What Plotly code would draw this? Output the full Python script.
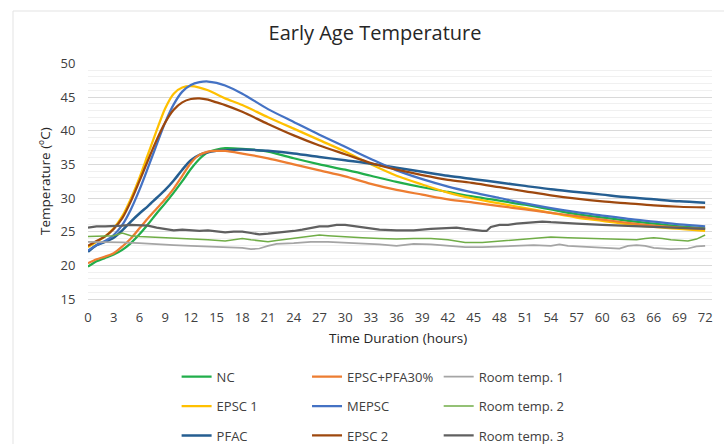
import plotly.graph_objects as go

hours = [0, 1, 2, 3, 4, 5, 6, 7, 8, 9, 10, 11, 12, 13, 14, 15, 16, 18,
         21, 24, 27, 30, 33, 36, 39, 42, 45, 48, 51, 54, 57, 60, 63, 66, 69, 72]

nc = [19.8, 20.6, 21.1, 21.6, 22.3, 23.3, 24.6, 26.1, 27.7, 29.2, 30.8, 32.5, 34.3, 35.8, 36.8, 37.2, 37.4, 37.3,
      36.9, 35.9, 35.0, 34.2, 33.3, 32.4, 31.6, 30.9, 30.2, 29.6, 29.0, 28.3, 27.6, 27.1, 26.6, 26.2, 25.8, 25.5]
epsc_pfa = [20.3, 20.9, 21.3, 21.8, 22.8, 24.0, 25.5, 27.0, 28.4, 29.8, 31.4, 33.3, 35.2, 36.4, 36.9, 37.0, 37.0, 36.6,
            35.9, 35.0, 34.1, 33.2, 32.1, 31.2, 30.5, 29.8, 29.3, 28.8, 28.3, 27.8, 27.3, 26.8, 26.3, 25.9, 25.6, 25.4]
epsc1 = [22.7, 23.5, 24.3, 25.5, 27.3, 29.9, 33.0, 36.5, 40.0, 43.3, 45.5, 46.4, 46.6, 46.4, 46.0, 45.4, 44.8, 43.8,
         42.0, 40.3, 38.6, 36.9, 35.0, 33.3, 32.0, 30.8, 29.9, 29.2, 28.5, 27.8, 27.1, 26.6, 26.1, 25.7, 25.4, 25.1]
mepsc = [22.2, 23.0, 23.6, 24.5, 26.0, 28.3, 31.2, 34.5, 37.9, 41.2, 43.9, 45.8, 46.8, 47.2, 47.3, 47.1, 46.7, 45.5,
         43.2, 41.3, 39.4, 37.6, 35.8, 34.1, 32.8, 31.7, 30.8, 30.0, 29.2, 28.5, 27.9, 27.4, 26.9, 26.5, 26.1, 25.8]
pfac = [22.0, 23.0, 23.5, 24.1, 25.2, 26.5, 27.7, 28.8, 30.0, 31.2, 32.6, 34.2, 35.6, 36.4, 36.8, 37.0, 37.1, 37.2,
        37.0, 36.6, 36.1, 35.6, 35.1, 34.5, 33.9, 33.3, 32.8, 32.3, 31.8, 31.3, 30.9, 30.5, 30.1, 29.8, 29.5, 29.3]
epsc2 = [22.9, 23.6, 24.3, 25.4, 27.0, 29.5, 32.5, 35.6, 38.6, 41.2, 43.1, 44.2, 44.7, 44.8, 44.6, 44.2, 43.8, 42.8,
         41.0, 39.3, 37.8, 36.5, 35.2, 34.2, 33.4, 32.7, 32.2, 31.6, 31.0, 30.4, 29.9, 29.5, 29.2, 28.9, 28.7, 28.6]

# room temperatures
room1_hours = [0, 2, 4, 6, 8, 10, 12, 14, 16, 18, 19, 20, 21, 22, 24, 26, 28, 30, 32, 34, 36, 38, 40,
               42, 44, 46, 48, 50, 52, 54, 55, 56, 58, 60, 62, 63, 64, 65, 66, 68, 70, 71, 72]
room1 = [23.5, 23.5, 23.4, 23.3, 23.1, 23.0, 22.9, 22.8, 22.8, 22.6, 22.4, 22.5, 22.9, 23.2, 23.3, 23.5, 23.5,
         23.4, 23.3, 23.1, 22.9, 23.2, 23.1, 22.9, 22.7, 22.7, 22.8, 22.9, 23.0, 22.9, 23.1, 22.9, 22.8, 22.7,
         22.5, 22.9, 23.0, 22.9, 22.6, 22.4, 22.5, 22.8, 22.9]

room2_hours = [0, 1, 2, 3, 4, 5, 6, 8, 10, 12, 14, 16, 17, 18, 19, 20, 21, 22, 24, 26, 27, 28, 30, 32, 34,
               36, 38, 40, 42, 44, 46, 48, 50, 52, 54, 56, 58, 60, 62, 64, 65, 66, 67, 68, 70, 71, 72]
room2 = [24.3, 24.3, 24.3, 24.4, 24.8, 24.4, 24.3, 24.2, 24.1, 24.0, 23.8, 23.6, 23.8, 24.0, 23.8, 23.6, 23.5,
         23.7, 24.0, 24.3, 24.5, 24.4, 24.2, 24.1, 24.0, 23.9, 24.0, 24.0, 23.8, 23.4, 23.4, 23.6, 23.8, 24.0,
         24.2, 24.1, 24.0, 23.9, 23.8, 23.8, 24.0, 24.1, 24.0, 23.8, 23.6, 23.9, 24.5]

room3_hours = [0, 1, 2, 3, 4, 5, 6, 7, 8, 9, 10, 11, 12, 13, 14, 15, 16, 17, 18, 19, 20, 21, 22, 23, 24, 25,
               26, 27, 28, 29, 30, 31, 32, 33, 34, 36, 38, 40, 42, 43, 44, 45, 46, 46.5, 47, 48, 49, 50, 51,
               52, 53, 54, 55, 57, 60, 62, 64, 66, 68, 70, 72]
room3 = [25.6, 25.8, 25.8, 25.8, 25.9, 26.0, 26.0, 25.9, 25.6, 25.4, 25.2, 25.3, 25.2, 25.1, 25.2, 25.0, 24.9,
         25.0, 25.0, 24.8, 24.6, 24.7, 24.8, 25.0, 25.1, 25.3, 25.6, 25.8, 25.8, 26.0, 26.0, 25.8, 25.6, 25.4,
         25.3, 25.2, 25.2, 25.4, 25.5, 25.6, 25.4, 25.2, 25.1, 25.1, 25.7, 26.0, 26.0, 26.2, 26.3, 26.3, 26.5,
         26.4, 26.3, 26.2, 26.0, 25.9, 25.8, 25.7, 25.6, 25.5, 25.4]

x_ticks = list(range(0, 73, 3))

font = "Open Sans, Liberation Sans, sans-serif"

fig = go.Figure()

def add_line(x, y, name, color, width, legend, smooth=True):
    fig.add_trace(go.Scatter(
        x=x, y=y, name=name, mode="lines",
        line=dict(color=color, width=width,
                  shape="spline" if smooth else "linear",
                  smoothing=0.8 if smooth else None),
        legend=legend, legendgroup=name,
    ))

# column 1 of the legend
add_line(hours, nc, "NC", "#21AE4B", 2.25, "legend")
add_line(hours, epsc1, "EPSC 1", "#FFC000", 2.25, "legend")
add_line(hours, pfac, "PFAC", "#255E91", 2.5, "legend")
# column 2
add_line(hours, epsc_pfa, "EPSC+PFA30%", "#ED7D31", 2.25, "legend2")
add_line(hours, mepsc, "MEPSC", "#4472C4", 2.25, "legend2")
add_line(hours, epsc2, "EPSC 2", "#9E480E", 2.25, "legend2")
# column 3
add_line(room1_hours, room1, "Room temp. 1", "#A5A5A5", 1.75, "legend3", smooth=False)
add_line(room2_hours, room2, "Room temp. 2", "#70AD47", 1.5, "legend3", smooth=False)
add_line(room3_hours, room3, "Room temp. 3", "#606060", 2.25, "legend3", smooth=False)

leg = dict(yanchor="top", xanchor="left", y=-0.2658, bgcolor="rgba(0,0,0,0)",
           font=dict(family=font, size=13, color="#404040"),
           tracegroupgap=9.5, itemwidth=30, orientation="v")

fig.update_layout(
    width=724, height=444,
    paper_bgcolor="white", plot_bgcolor="white",
    margin=dict(l=88, r=12, t=63, b=145, autoexpand=False),
    title=dict(text="Early Age Temperature", x=0.518, xanchor="center",
               y=0.926, yanchor="middle", yref="container",
               font=dict(family=font, size=20, color="#262626")),
    xaxis=dict(range=[0, 72.8], tickvals=x_ticks, showgrid=False, zeroline=False,
               showline=True, linecolor="#D9D9D9", linewidth=1,
               ticks="outside", ticklen=6, tickcolor="rgba(0,0,0,0)",
               tickfont=dict(family=font, size=13, color="#404040")),
    yaxis=dict(range=[15, 50.05], dtick=5, showgrid=True, gridcolor="#D9D9D9",
               zeroline=False, ticks="outside", ticklen=9, tickcolor="rgba(0,0,0,0)",
               minor=dict(dtick=1, showgrid=True, gridcolor="#F0F0F0"),
               tickfont=dict(family=font, size=13, color="#404040")),
    legend=dict(leg, x=0.142),
    legend2=dict(leg, x=0.351),
    legend3=dict(leg, x=0.562),
    showlegend=True,
    annotations=[
        dict(text="Time Duration (hours)", xref="paper", yref="paper", x=0.497, y=-0.165,
             showarrow=False, xanchor="center", yanchor="middle",
             font=dict(family=font, size=13.5, color="#262626")),
        dict(text="Temperature (ºC)", xref="paper", yref="paper", x=-0.069, y=0.5,
             showarrow=False, textangle=-90, xanchor="center", yanchor="middle",
             font=dict(family=font, size=13.5, color="#262626")),
    ],
    shapes=[
        dict(type="line", xref="paper", yref="paper", x0=-0.1202, x1=-0.1202, y0=-0.7, y1=1.2203,
             line=dict(color="#E3E3E3", width=1)),
        dict(type="line", xref="paper", yref="paper", x0=-0.1202, x1=1.1, y0=1.2203, y1=1.2203,
             line=dict(color="#E3E3E3", width=1)),
    ],
)

# the page body has a default 8px margin; drop it so the figure sits at the window origin
fig.write_html("out.html", config={"displayModeBar": False},
               post_script="document.body.style.margin='0px';")
